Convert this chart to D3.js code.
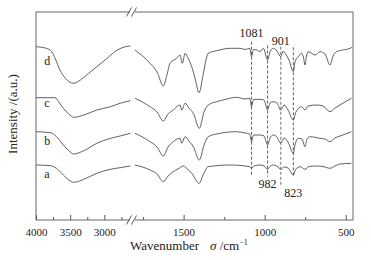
<!DOCTYPE html>
<html>
<head>
<meta charset="utf-8">
<script src="https://cdn.jsdelivr.net/npm/d3@7"></script>
<style>
  body { margin: 0; background: #fff; }
  svg { display: block; font-family: "Liberation Serif", "DejaVu Serif", serif; }
</style>
</head>
<body>
<svg id="chart" width="371" height="260"></svg>
<script>
// wavenumbers (cm-1) and intensities, high band (left panel)
const wnHigh = [4000, 3850, 3770, 3720, 3650, 3570, 3450, 3350, 3230, 3110, 2960, 2810, 2690, 2620];
const dHigh = [173.3, 171.7, 168.3, 161.7, 150, 141.7, 136.7, 140, 146.7, 153.3, 161.7, 170, 173.3, 174];
const wnHighC = [4000, 3720, 3670, 3600, 3520, 3450, 3300, 3110, 2910, 2770, 2620];
const cHigh = [122.3, 122.3, 118.3, 111.7, 106, 102.7, 105, 110, 113.3, 116.7, 119.3];
const wnHighAB = [4000, 3790, 3700, 3600, 3520, 3450, 3300, 3110, 2910, 2770, 2620];
const bHigh = [88.3, 87.3, 83.3, 75, 69.3, 66, 69.3, 76.7, 81.7, 84, 86.7];
const aHigh = [55, 54.3, 51.7, 45, 40, 37.7, 40.7, 46.7, 50.7, 52.3, 54];

// low band (right panel)
const wnLowD = [1800, 1707, 1664, 1625, 1603, 1584, 1543, 1522, 1508, 1491, 1473, 1450, 1430, 1405, 1380, 1362, 1348, 1296, 1214, 1152, 1121, 1092,
  1081, 1069, 1047, 1029, 1008, 982, 967, 947, 924, 901, 887, 874, 850, 823, 813, 793, 772, 761, 751, 742, 731, 689, 659, 628, 597, 578, 556, 517, 472, 460];
const dLow = [170, 156.7, 148, 134, 145, 156.7, 161.7, 165, 156.7, 166.7, 162, 153.3, 142, 127.3, 145, 160, 166.7, 169.3, 171.7, 171.7, 170.5, 171.7,
  163.3, 170.5, 170, 168.3, 171.7, 160, 168, 171.7, 169, 163.3, 169, 166.7, 160, 148.3, 158, 163.3, 166.7, 163, 155, 164, 168.3, 165, 168.3, 166, 155, 164, 168.3, 170, 171.7, 173];

const wnLowC = [1800, 1707, 1664, 1625, 1596, 1564, 1522, 1512, 1491, 1467, 1440, 1403, 1374, 1348, 1296, 1245, 1173, 1121, 1092,
  1081, 1069, 1029, 1004, 982, 967, 947, 924, 901, 880, 856, 823, 807, 772, 751, 733, 679, 640, 597, 566, 535, 505, 465];
const cLow = [121.7, 113.3, 108, 99, 106, 110, 115, 110, 116.7, 112, 106.7, 91.7, 108, 115, 118.3, 120.5, 122.7, 121, 121.7,
  113.3, 120.5, 120.7, 120, 110, 117, 118.3, 117, 110, 115, 110, 100, 108, 113.3, 110, 114, 115, 114, 108.3, 112, 115, 118, 121.7];

const wnLowB = [1800, 1707, 1664, 1625, 1596, 1564, 1522, 1512, 1491, 1467, 1440, 1403, 1374, 1348, 1296, 1173, 1121, 1092,
  1081, 1069, 1029, 1004, 982, 967, 947, 924, 901, 880, 856, 823, 813, 793, 770, 751, 739, 720, 659, 628, 597, 566, 535, 465];
const bLow = [86.7, 78.3, 73, 64, 73, 78.3, 81.7, 76.7, 83.3, 79, 73.3, 60, 75, 83.3, 86, 88.3, 87, 86,
  78.3, 85, 85, 84, 75, 82, 85, 83, 76.7, 82, 78, 66.7, 75, 81.7, 81, 73.3, 81, 83.3, 81.7, 81, 78.3, 82, 84, 88.3];

const wnLowA = [1800, 1707, 1664, 1625, 1596, 1564, 1535, 1502, 1479, 1450, 1403, 1380, 1348, 1214, 1092,
  1081, 1066, 1029, 1004, 982, 967, 947, 924, 901, 880, 856, 823, 807, 783, 751, 726, 679, 640, 597, 566, 535, 465];
const aLow = [55, 50, 46, 38.3, 44, 48.3, 51, 54, 51.5, 46.7, 36.7, 45, 53.3, 55, 53.3,
  51.7, 54, 55, 54, 50.7, 53.5, 55, 54, 50.7, 53, 52, 45, 51, 53.3, 50.7, 53.5, 54, 53.5, 51.7, 54, 56, 56.7];

const curveLabels = ["a", "b", "c", "d"];
const labelY = [42, 75, 113, 155];
const bandMarks = [1081, 982, 901, 823];
const bandTop = [41.7, 45.5, 46.7, 47.3];
const bandBottom = [176.7, 176.7, 185, 176.7];
const bandLabelY = [37, 188, 45, 197];
const highTicks = [4000, 3500, 3000];
const highMinor = [3750, 3250, 2750];
const lowTicks = [1500, 1000, 500];
const lowMinor = [1750, 1250, 750];

const svg = d3.select("#chart");
const mLeft = 36, mRight = 353, mTop = 12, mBottom = 220;

const xHigh = d3.scaleLinear().domain([4000, 2610]).range([mLeft, 131]);
const xLow = d3.scaleLinear().domain([1800, 455]).range([135, mRight]);
const y = d3.scaleLinear().domain([0, 208]).range([mBottom, mTop]);

const line = (xs) => d3.line().x(d => xs(d[0])).y(d => y(d[1])).curve(d3.curveMonotoneX);

const series = [
  { hi: d3.zip(wnHighAB, aHigh), lo: d3.zip(wnLowA, aLow) },
  { hi: d3.zip(wnHighAB, bHigh), lo: d3.zip(wnLowB, bLow) },
  { hi: d3.zip(wnHighC, cHigh), lo: d3.zip(wnLowC, cLow) },
  { hi: d3.zip(wnHigh, dHigh), lo: d3.zip(wnLowD, dLow) }
];

// dashed band markers
bandMarks.forEach((b, i) => {
  svg.append("line")
    .attr("x1", xLow(b)).attr("x2", xLow(b))
    .attr("y1", bandTop[i]).attr("y2", bandBottom[i])
    .attr("stroke", b === 901 ? "#999" : "#333")
    .attr("stroke-width", b === 901 ? 1.4 : 0.8)
    .attr("stroke-dasharray", "3,2");
  svg.append("text")
    .attr("x", xLow(b)).attr("y", bandLabelY[i])
    .attr("text-anchor", "middle")
    .attr("font-size", 12)
    .attr("fill", "#222")
    .text(b);
});

series.forEach((s, i) => {
  svg.append("path").attr("d", line(xHigh)(s.hi))
    .attr("fill", "none").attr("stroke", "#444").attr("stroke-width", 0.85);
  svg.append("path").attr("d", line(xLow)(s.lo))
    .attr("fill", "none").attr("stroke", "#444").attr("stroke-width", 0.85);
  svg.append("text")
    .attr("x", xHigh(3880)).attr("y", y(labelY[i]))
    .attr("font-size", 12).attr("fill", "#222")
    .text(curveLabels[i]);
});

// axes
const fmt = d3.format("d");
const addAxis = (xs, vals, size, labels) => {
  const ax = d3.axisBottom(xs).tickValues(vals).tickSizeInner(-size).tickSizeOuter(0).tickPadding(8)
    .tickFormat(labels ? fmt : "");
  svg.append("g")
    .attr("transform", `translate(0,${mBottom})`)
    .call(ax)
    .attr("font-family", "Liberation Serif, serif")
    .attr("font-size", 11);
};
addAxis(xHigh, highTicks, 5, true);
addAxis(xLow, lowTicks, 5, true);
addAxis(xHigh, highMinor, 3, false);
addAxis(xLow, lowMinor, 3, false);
svg.selectAll(".domain").remove();
svg.selectAll(".tick line").attr("stroke", "#555");
svg.selectAll(".tick text").attr("fill", "#222");

// frame
svg.append("path")
  .attr("d", `M${mLeft},${mBottom}V${mTop}H${mRight}V${mBottom}H${mLeft}`)
  .attr("fill", "none").attr("stroke", "#666").attr("stroke-width", 1);

// axis breaks
[mTop, mBottom].forEach(yy => {
  svg.append("rect").attr("x", 130).attr("y", yy - 2).attr("width", 5).attr("height", 4).attr("fill", "#fff");
  [129, 134].forEach(bx => {
    svg.append("line")
      .attr("x1", bx - 2.5).attr("y1", yy + 4.5)
      .attr("x2", bx + 2.5).attr("y2", yy - 4.5)
      .attr("stroke", "#444").attr("stroke-width", 0.9);
  });
});

// axis titles
svg.append("text")
  .attr("transform", "translate(17,114) rotate(-90)")
  .attr("text-anchor", "middle")
  .attr("font-size", 13).attr("fill", "#222")
  .text("Intensity /(a.u.)");

const xt = svg.append("text")
  .attr("x", 130).attr("y", 250)
  .attr("font-size", 13).attr("fill", "#222");
xt.append("tspan").text("Wavenumber");
xt.append("tspan").attr("dx", 11).attr("font-style", "italic").text("σ");
xt.append("tspan").text(" /cm");
xt.append("tspan").attr("dy", -5).attr("font-size", 8).text("−1");
</script>
</body>
</html>
